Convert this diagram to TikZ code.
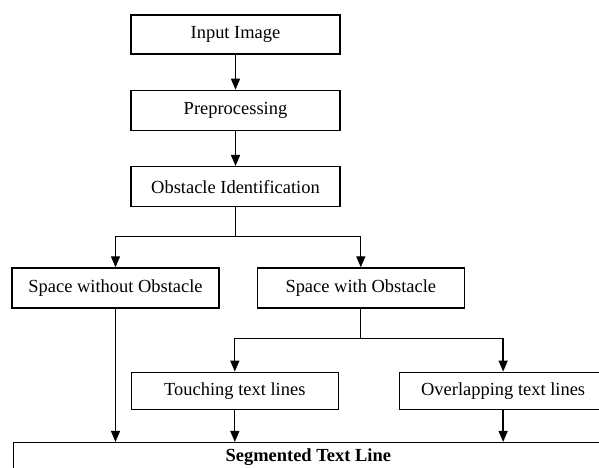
\documentclass[tikz,border=0pt]{standalone}
\usepackage{fontspec}
\setmainfont{Liberation Serif}
\usepackage{tikz}
\usetikzlibrary{arrows.meta, positioning, calc}

\begin{document}
\begin{tikzpicture}[
    node distance=0.7cm,
    flowbox/.style={rectangle, draw, line width=0.75pt, minimum width=4.14cm, minimum height=0.8cm, inner sep=2pt, font=\fontsize{10.5}{12}\selectfont, text=black},
    line/.style={line width=0.75pt},
    arrow/.style={line width=0.75pt, -{Triangle[length=2.2mm, width=1.8mm]}}
]
\clip (0,0) rectangle (11.98,-9.34);
\fill[white] (0,0) rectangle (11.98,-9.34);

\node[flowbox, minimum width=4.18cm, minimum height=0.78cm] (input) at (4.71,-0.69) {Input Image};
\node[flowbox, minimum width=4.18cm, below=of input] (prep) {Preprocessing};
\node[flowbox, minimum width=4.18cm, below=of prep] (obst) {Obstacle Identification};
\node[flowbox, below=1.2cm of obst, xshift=-2.4cm] (nospace) {Space without Obstacle};
\node[flowbox, right=0.74cm of nospace] (withobs) {Space with Obstacle};
\node[flowbox, minimum height=0.74cm, below=1.26cm of withobs, xshift=-2.52cm] (touch) {Touching text lines};
\node[flowbox, minimum height=0.74cm, right=1.2cm of touch] (overlap) {Overlapping text lines};
\node[flowbox, minimum width=11.8cm, minimum height=0.6cm, below=0.64cm of touch, xshift=1.47cm] (segm) {\textbf{Segmented Text Line}};

% main chain
\draw[arrow] (input) -- (prep);
\draw[arrow] (prep) -- (obst);

% first split
\draw[line] (obst.south) -- ++(0,-0.58) coordinate (split1);
\draw[arrow] (split1) -| (nospace);
\draw[arrow] (split1) -| (withobs);

% second split
\draw[line] (withobs.south) -- ++(0,-0.6) coordinate (split2);
\draw[arrow] (split2) -| (touch);
\draw[arrow] (split2) -| (overlap);

% into the result
\draw[arrow] (nospace) -- (nospace |- segm.north);
\draw[arrow] (touch) -- (touch |- segm.north);
\draw[arrow] (overlap) -- (overlap |- segm.north);
\end{tikzpicture}
\end{document}
